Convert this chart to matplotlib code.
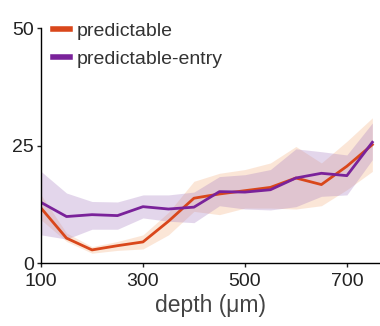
import matplotlib
matplotlib.use("Agg")
import matplotlib.pyplot as plt

plt.rcParams["font.family"] = ["Liberation Sans", "DejaVu Sans"]

depth = [100, 150, 200, 250, 300, 350, 400, 450, 500, 550, 600, 650, 700, 750]

pred_mean = [11.7, 5.3, 2.8, 3.7, 4.5, 8.9, 13.8, 14.7, 15.4, 16.1, 18.1, 16.7, 20.6, 25.2]
pred_lo = [9.2, 4.6, 2.1, 2.7, 3.0, 6.0, 11.0, 10.3, 11.7, 11.7, 11.5, 12.2, 15.6, 19.5]
pred_hi = [14.5, 6.4, 3.5, 4.6, 6.0, 10.8, 17.4, 19.1, 19.9, 21.3, 24.8, 21.3, 25.9, 30.9]

entry_mean = [12.9, 9.9, 10.3, 10.1, 12.0, 11.5, 11.9, 15.2, 15.1, 15.6, 18.1, 19.1, 18.6, 25.7]
entry_lo = [6.0, 5.1, 7.2, 7.2, 9.6, 8.9, 8.6, 12.2, 11.5, 11.3, 12.0, 14.2, 14.5, 22.0]
entry_hi = [19.5, 14.9, 13.1, 13.0, 14.5, 14.5, 15.1, 18.4, 18.8, 19.9, 24.3, 23.7, 23.0, 29.8]

orange = "#d9471b"
purple = "#7a229a"

fig = plt.figure(figsize=(3.8, 3.26), dpi=100)
ax = fig.add_axes([0.108, 0.193, 0.892, 0.721])

ax.fill_between(depth, pred_lo, pred_hi, color="#f5b98f", alpha=0.35, lw=0)
ax.fill_between(depth, entry_lo, entry_hi, color="#a47ac0", alpha=0.3, lw=0)
ax.plot(depth, pred_mean, color=orange, lw=2, label="predictable")
ax.plot(depth, entry_mean, color=purple, lw=2, label="predictable-entry")

ax.set_xlim(100, 765)
ax.set_ylim(0, 50)
ax.set_xticks([100, 300, 500, 700])
ax.set_yticks([0, 25, 50])
ax.tick_params(labelsize=14, length=3, width=1, colors="#222222", pad=2)
ax.tick_params(axis="x", pad=4)
for s in ["top", "right"]:
    ax.spines[s].set_visible(False)
for s in ["left", "bottom"]:
    ax.spines[s].set_linewidth(1)
ax.set_xlabel("depth (\u03bcm)", fontsize=16.5, color="#444444", labelpad=3)

leg = ax.legend(loc="upper left", bbox_to_anchor=(0.0, 1.075), frameon=False,
                fontsize=14, handlelength=0.9, handletextpad=0.35,
                labelspacing=0.55, borderaxespad=0.2)
for line in leg.get_lines():
    line.set_linewidth(4)
for t in leg.get_texts():
    t.set_color("#333333")

fig.savefig("out.png", dpi=100)
